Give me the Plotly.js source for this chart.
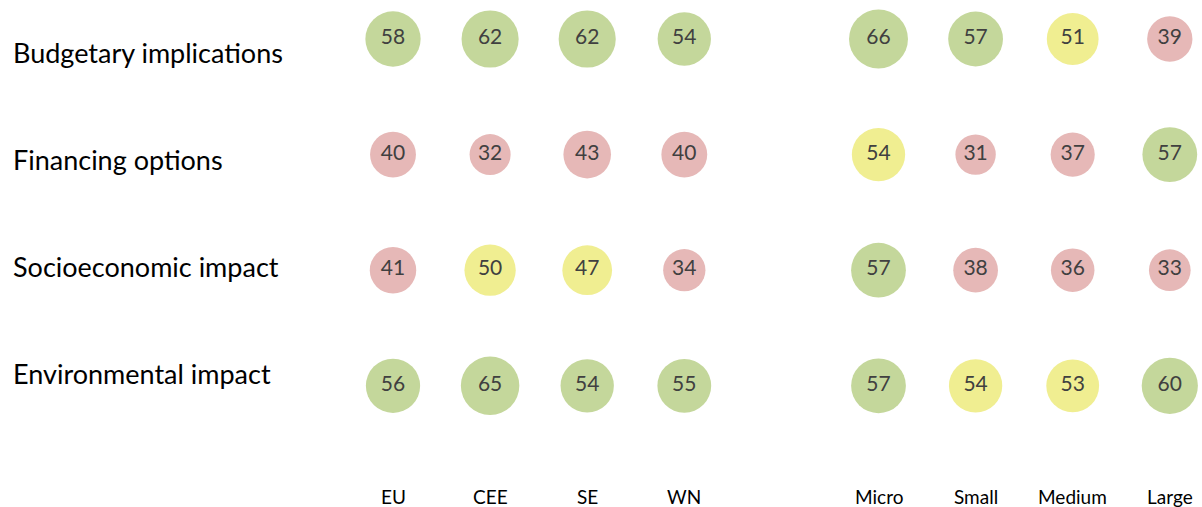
<!DOCTYPE html>
<html>
<head>
<meta charset="utf-8">
<script src="https://cdn.plot.ly/plotly-3.0.1.min.js"></script>
<style>html,body{margin:0;padding:0;background:#fff}#chart{width:1202px;height:507px}</style>
</head>
<body>
<div id="chart"></div>
<script>
// ---- data ----
const columns = ["EU", "CEE", "SE", "WN", "Micro", "Small", "Medium", "Large"];
const columnSlots = [0, 1, 2, 3, 5, 6, 7, 8]; // gap between the region and size groups
const rowLabels = ["Budgetary implications", "Financing options", "Socioeconomic impact", "Environmental impact"];
const budgetary     = [58, 62, 62, 54, 66, 57, 51, 39];
const financing     = [40, 32, 43, 40, 54, 31, 37, 57];
const socioeconomic = [41, 50, 47, 34, 57, 38, 36, 33];
const environmental = [56, 65, 54, 55, 57, 54, 53, 60];
const budgetaryRating     = ["g", "g", "g", "g", "g", "g", "y", "r"];
const financingRating     = ["r", "r", "r", "r", "y", "r", "r", "g"];
const socioeconomicRating = ["r", "y", "y", "r", "g", "r", "r", "r"];
const environmentalRating = ["g", "g", "g", "g", "g", "y", "y", "g"];

// ---- styling ----
const palette = { g: "#c4d79b", y: "#f0ee91", r: "#e6b8b7" };
const FONT = "Lato, 'Open Sans', sans-serif";
const series = [budgetary, financing, socioeconomic, environmental];
const ratings = [budgetaryRating, financingRating, socioeconomicRating, environmentalRating];

const traces = series.map((vals, r) => ({
  type: "scatter",
  mode: "markers+text",
  x: columnSlots,
  y: vals.map(() => r),
  text: vals.map(String),
  textposition: "middle center",
  textfont: { family: FONT, size: 21, color: "#404040" },
  marker: {
    size: vals,
    sizemode: "area",
    sizeref: 0.038,
    opacity: 1,
    color: ratings[r].map(k => palette[k]),
    line: { width: 0 }
  },
  hoverinfo: "text",
  showlegend: false,
  cliponaxis: false
}));

const W = 1202, H = 507;
const colPx0 = 393, colStep = 97.1;
const rowPx0 = 39, rowStep = 115.6;
const xRange = [-colPx0 / colStep, (W - colPx0) / colStep];
const yRange = [(H - rowPx0) / rowStep, -rowPx0 / rowStep];
const pxToY = p => (p - rowPx0) / rowStep;

const annotations = [];
rowLabels.forEach((t, i) => {
  annotations.push({
    text: t, xref: "paper", yref: "y",
    x: 11 / W, y: pxToY(52 + 107 * i),
    xanchor: "left", yanchor: "middle", showarrow: false,
    font: { family: FONT, size: 27, color: "#000" }
  });
});
columns.forEach((c, i) => {
  annotations.push({
    text: c, xref: "x", yref: "y",
    x: columnSlots[i], y: pxToY(496),
    xanchor: "center", yanchor: "middle", showarrow: false,
    font: { family: FONT, size: 19, color: "#000" }
  });
});

const layout = {
  width: W, height: H,
  margin: { l: 0, r: 0, t: 0, b: 0 },
  paper_bgcolor: "#fff", plot_bgcolor: "#fff",
  xaxis: { range: xRange, visible: false, fixedrange: true },
  yaxis: { range: yRange, visible: false, fixedrange: true },
  annotations: annotations,
  showlegend: false
};

Plotly.newPlot("chart", traces, layout, { displayModeBar: false, staticPlot: true });
</script>
</body>
</html>
